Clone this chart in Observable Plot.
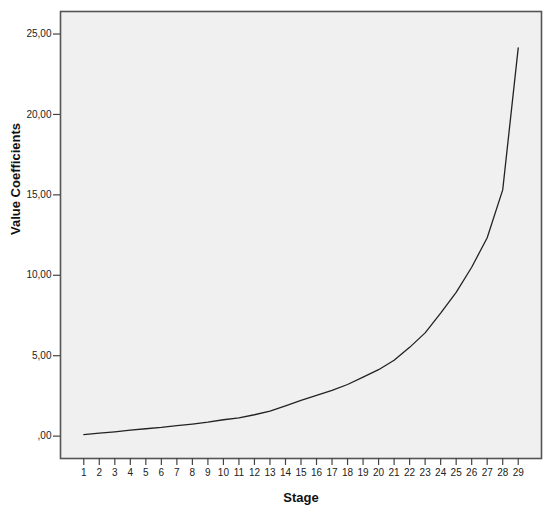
<!DOCTYPE html>
<html>
<head>
<meta charset="utf-8">
<script src="https://cdn.jsdelivr.net/npm/d3@7"></script>
<script src="https://cdn.jsdelivr.net/npm/@observablehq/plot@0.6"></script>
<style>
  html, body { margin: 0; padding: 0; background: #ffffff; }
  svg { display: block; }
</style>
</head>
<body>
<div id="chart"></div>
<script>
const stages = [1,2,3,4,5,6,7,8,9,10,11,12,13,14,15,16,17,18,19,20,21,22,23,24,25,26,27,28,29];
const coefficients = [0.10,0.19,0.27,0.37,0.46,0.54,0.65,0.75,0.87,1.02,1.14,1.33,1.55,1.88,2.22,2.53,2.84,3.21,3.67,4.13,4.72,5.52,6.42,7.65,8.94,10.5,12.33,15.31,24.14];
const yTicks = [0,5,10,15,20,25];
const xLabel = "Stage";
const yLabel = "Value Coefficients";

const data = stages.map((s, i) => ({stage: s, value: coefficients[i]}));
const fmt = d => d === 0 ? ",00" : d.toFixed(2).replace(".", ",");

const chart = Plot.plot({
  width: 550,
  height: 513,
  marginLeft: 60,
  marginRight: 9,
  marginTop: 11,
  marginBottom: 55,
  style: {fontFamily: "'Liberation Sans', Arial, sans-serif", fontSize: "10px", color: "#222", background: "#ffffff"},
  x: {domain: [-0.5, 30.5]},
  y: {domain: [-1.39, 26.4]},
  marks: [
    Plot.frame({fill: "#f0f0f0", stroke: "none"}),
    Plot.line(data, {x: "stage", y: "value", stroke: "#222", strokeWidth: 1.3}),
    Plot.frame({stroke: "#555", strokeWidth: 1.6}),
    Plot.axisX(stages, {tickSize: 7, tickPadding: 3, stroke: "#444", strokeWidth: 1.2, tickFormat: d => String(d), label: null}),
    Plot.axisY(yTicks, {tickSize: 7, tickPadding: 2, stroke: "#444", strokeWidth: 1.2, tickFormat: fmt, label: null}),
    Plot.text([xLabel], {frameAnchor: "bottom", dy: 43, text: d => d, fontWeight: "bold", fontSize: 13, fill: "#111"}),
    Plot.text([yLabel], {frameAnchor: "left", dx: -45, rotate: -90, text: d => d, fontWeight: "bold", fontSize: 13, fill: "#111"})
  ]
});
document.getElementById("chart").appendChild(chart);
</script>
</body>
</html>
